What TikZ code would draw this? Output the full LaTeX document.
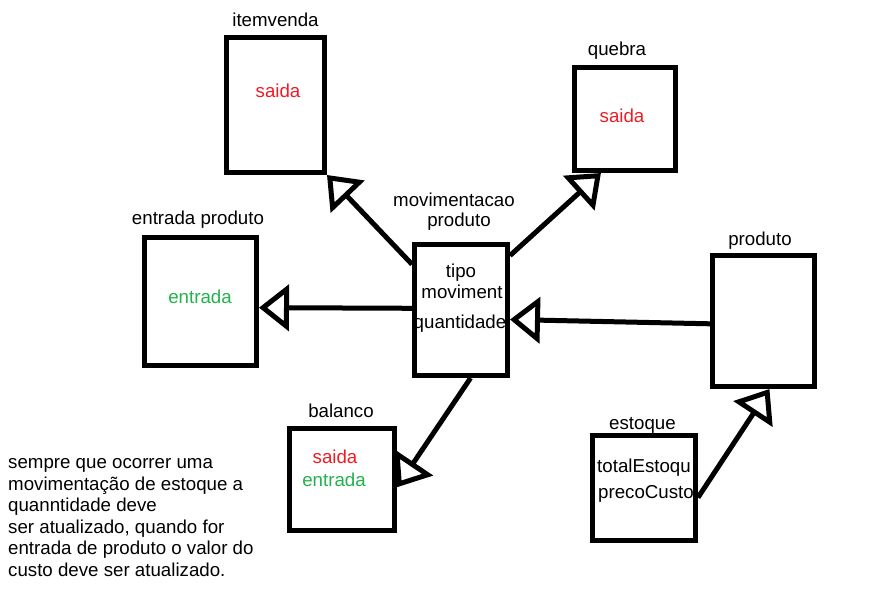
\documentclass[tikz,border=0pt]{standalone}
\usepackage{fontspec}
\setmainfont{Liberation Sans}
\usetikzlibrary{positioning, arrows.meta}
\definecolor{saidared}{RGB}{237,28,36}
\definecolor{entradagreen}{RGB}{34,177,76}
\tikzset{
    tabela/.style={draw, line width=5pt, inner sep=0pt},
    titulo/.style={inner sep=0pt, text depth=0pt},
    campo/.style={inner sep=0pt, anchor=base},
    txtsaida/.style={campo, text=saidared},
    txtentrada/.style={campo, text=entradagreen},
    seta/.style={line width=5pt, -{Triangle[open, length=30pt, width=46pt]}},
}

\begin{document}
\begin{tikzpicture}[x=1pt, y=-1pt, every node/.style={font=\fontsize{18.7}{21.5}\selectfont}]
    \useasboundingbox (0,0) rectangle (884,589);

    \node[tabela, minimum width=98pt, minimum height=135pt] (itemvenda) at (275.5,105) {};
    \node[tabela, minimum width=101pt, minimum height=103pt] (quebra) at (625,119) {};
    \node[tabela, minimum width=93pt, minimum height=131pt] (movim) at (461,310) {};
    \node[tabela, minimum width=112pt, minimum height=128pt] (entradaprod) at (200.5,301.5) {};
    \node[tabela, minimum width=102pt, minimum height=131pt] (produto) at (763.5,321) {};
    \node[tabela, minimum width=105pt, minimum height=102pt] (balanco) at (342,479.5) {};
    \node[tabela, minimum width=103pt, minimum height=105pt] (estoque) at (644,488) {};

    \node[titulo, above=8pt of itemvenda] (titemvenda) {itemvenda};
    \node[titulo, above=9pt of quebra, xshift=-8pt] (tquebra) {quebra};
    \node[titulo, above=15pt of movim, xshift=-2pt] (tmovim2) {produto};
    \node[titulo, above=6.5pt of tmovim2, xshift=-5pt] (tmovim1) {movimentacao};
    \node[titulo, above=10pt of entradaprod, xshift=-2.5pt] (tentradaprod) {entrada produto};
    \node[titulo, above=7pt of produto, xshift=-3.5pt] (tproduto) {produto};
    \node[titulo, above=8pt of balanco, xshift=-1pt] (tbalanco) {balanco};
    \node[titulo, above=3pt of estoque, xshift=-1.5pt] (testoque) {estoque};

    \node[txtsaida] (s1) at (278,97) {saida};
    \node[txtsaida] (s2) at (622,122.5) {saida};
    \node[campo] (m1) at (461,277) {tipo};
    \node[campo] (m2) at (462,298) {moviment};
    \node[campo] (m3) at (460,328) {quantidade};
    \node[txtentrada] (e1) at (200,303) {entrada};
    \node[txtsaida] (b1) at (335,463) {saida};
    \node[txtentrada] (b2) at (334,486) {entrada};
    \node[campo] (q1) at (644,472) {totalEstoqu};
    \node[campo] (q2) at (646,498) {precoCusto};

    \draw[seta] (movim.137) -- (itemvenda.south east);
    \draw[seta] (movim.48) -- (quebra.-114);
    \draw[seta] (movim.178) -- (entradaprod.-6);
    \draw[seta] (movim.-82) -- (balanco.-8);
    \draw[seta] (produto.183) -- (movim.-11);
    \draw[seta] (estoque.-10) -- (produto.-85);

    \node[anchor=base west, align=left, inner sep=0pt] (nota) at (8,576) {sempre que ocorrer uma\\ movimentação de estoque a\\ quanntidade deve\\ ser atualizado, quando for\\ entrada de produto o valor do\\ custo deve ser atualizado.};
\end{tikzpicture}
\end{document}
